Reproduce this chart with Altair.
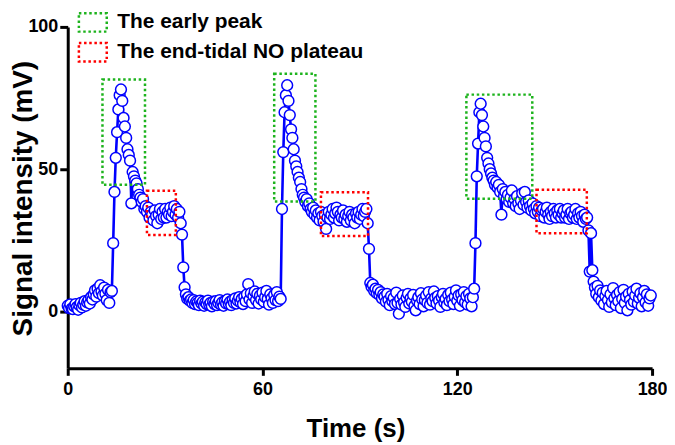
import altair as alt
import pandas as pd

FONT = "Liberation Sans"
SAMPLE_INTERVAL_S = 0.4

# Signal (mV), one value every 0.4 s
baseline_1 = [2.0, 1.2, 2.5, 1.0, 0.8, 1.8, 2.6, 1.5, 0.6, 2.2,
              3.0, 1.4, 2.4, 3.6, 2.0, 3.2, 4.0, 2.8, 5.0, 4.2,
              6.0, 7.4, 5.2, 8.0, 6.4, 9.2, 7.0, 5.6, 8.4, 6.2,
              4.0, 7.6, 3.0, 6.8, 7.2]
cycle_1 = [24, 42, 54, 63, 71, 76, 78, 74, 68, 65,
           61, 57, 55, 53, 38, 49, 47.5, 46, 45, 43,
           41, 40, 38.5, 39.5, 36, 37, 35, 36.5, 33, 35,
           34, 32, 35.5, 33.5, 31, 34, 36, 32.5, 35, 33,
           36, 33, 35, 34, 36.5, 33.5, 35, 37, 34, 36,
           33, 35, 31, 27, 15.5, 8.5]
baseline_2 = [6.0, 4.5, 5.0, 3.8, 4.2, 3.0, 4.0, 2.6, 3.5, 3.0,
              2.2, 3.8, 2.8, 3.4, 2.0, 3.2, 2.6, 3.8, 2.4, 3.0,
              1.8, 3.4, 2.6, 3.6, 2.2, 3.0, 4.0, 2.4, 3.2, 2.0,
              3.6, 2.8, 4.2, 2.6, 3.4, 2.2, 4.0, 3.0, 4.6, 2.8,
              3.8, 5.0, 3.2, 4.4, 2.6, 5.2, 3.6, 6.0, 9.6, 4.2,
              6.4, 3.0, 5.4, 7.0, 4.0, 6.2, 2.8, 5.6, 4.2, 6.6,
              3.4, 5.0, 7.2, 4.4, 2.4, 6.0, 4.6, 3.0, 5.8, 4.0,
              6.8, 3.6, 5.2, 4.4]
cycle_2 = [36, 56, 70, 76, 79.5, 74, 69, 64, 61, 57,
           53, 51, 49, 47, 45.5, 43, 41, 40, 38.5, 39.5,
           37, 38, 36, 35, 36.5, 34, 35.5, 33, 34.5, 32,
           35, 33.5, 31.5, 34, 29, 33, 35, 32.5, 34, 36,
           33, 34.5, 36.5, 35, 32, 34, 33, 35.5, 32.5, 34,
           31.5, 33.5, 35, 32, 34, 33, 31, 34.5, 33, 35,
           32.5, 34, 36, 33.5, 35, 36, 31, 22, 10]
baseline_3 = [8.6, 9.4, 7.2, 8.0, 6.4, 7.6, 5.8, 6.8, 4.6, 6.0,
              5.2, 3.4, 6.2, 4.0, 2.2, 5.4, 3.6, 4.8, 2.6, 6.6,
              3.0, -0.8, 4.4, 2.4, 5.6, 3.2, 1.6, 4.8, 6.2, 2.8,
              4.6, 3.4, 5.8, 2.0, 0.4, 3.8, 5.0, 2.6, 6.4, 4.2,
              1.8, 4.0, 5.6, 3.0, 6.8, 2.4, 4.6, 3.6, 7.0, 4.8,
              2.8, 5.4, 3.8, 1.6, 5.0, 6.2, 3.2, 4.4, 2.2, 5.8,
              3.6, 6.6, 4.2, 2.6, 5.2, 7.4, 3.8, 5.6, 2.0, 6.0,
              4.0, 6.8, 3.2, 5.4, 2.4, 6.2, 4.6, 1.8, 5.0, 8.0]
cycle_3 = [24, 47.5, 59, 70, 73, 69, 65, 61, 58, 54,
           52, 50, 48.5, 47, 46, 44.5, 45.5, 43.5, 44.5, 42,
           34, 43, 40.5, 42, 39.5, 41, 38.5, 40, 42.5, 38,
           39.5, 37, 40.5, 38, 36, 39, 41.5, 37.5, 42, 38.5,
           36.5, 39, 37, 35.5, 38, 36, 34.5, 37, 35, 36.5,
           33.5, 35.5, 36, 33, 35, 36.5, 34, 32.5, 35,
           33.5, 36, 34.5, 33, 35.5, 34, 36, 33, 34.5, 35.5,
           33, 34, 36, 32.5, 34.5, 35, 33, 34, 36, 32.5,
           34.5, 33, 35, 33.5, 31.5, 34, 32.5, 33, 28.5, 14,
           27.5, 14.5]
baseline_4 = [10.5, 8.4, 6.2, 9.0, 5.0, 7.4, 3.8, 6.6, 2.6, 5.4,
              7.2, 4.0, 1.6, 6.0, 3.2, 8.2, 4.6, 2.2, 5.8, 3.6,
              6.8, 1.2, 4.4, 7.6, 3.0, 5.2, 0.4, 6.2, 4.0, 2.4,
              7.0, 3.4, 5.6, 8.0, 2.8, 4.8, 6.4, 1.8, 5.0, 7.2,
              3.2, 6.0, 2.0, 4.6, 5.6]

signal_mv = baseline_1 + cycle_1 + baseline_2 + cycle_2 + baseline_3 + cycle_3 + baseline_4
time_s = [round(i * SAMPLE_INTERVAL_S, 1) for i in range(len(signal_mv))]

# Annotation boxes (data units)
legend_labels = ["The early peak", "The end-tidal NO plateau"]
box_kind = [legend_labels[0]] * 3 + [legend_labels[1]] * 3
box_t_start = [10.7, 63.6, 122.8, 24.4, 78.0, 144.4]
box_t_end = [23.8, 76.3, 143.1, 33.3, 92.5, 159.9]
box_v_low = [44.5, 38.6, 39.6, 26.9, 26.5, 27.5]
box_v_high = [81.5, 83.5, 76.2, 42.4, 41.9, 42.8]

x_ticks = [0, 60, 120, 180]
y_ticks = [0, 50, 100]

df = pd.DataFrame({"t": time_s, "v": signal_mv})
boxes = pd.DataFrame({"kind": box_kind, "t0": box_t_start, "t1": box_t_end,
                      "v0": box_v_low, "v1": box_v_high})

x_scale = alt.Scale(domain=[0, 180], nice=False, zero=False)
y_scale = alt.Scale(domain=[-20, 100], nice=False, zero=False)

x_axis = alt.Axis(values=x_ticks, title="Time (s)", grid=False,
                  domainWidth=3, domainColor="black", tickWidth=3, tickColor="black",
                  tickSize=7, labelFont=FONT, labelFontSize=18, labelFontWeight="bold",
                  labelColor="black", labelPadding=5, labelFlush=False, labelOverlap=False,
                  titleFont=FONT, titleFontSize=26, titleFontWeight="bold", titleColor="black",
                  titleX=289, titleY=68, titleAlign="center", titleBaseline="alphabetic")
y_axis = alt.Axis(values=y_ticks, title="Signal intensity (mV)", grid=False,
                  domainWidth=3, domainColor="black", tickWidth=3, tickColor="black",
                  tickSize=8, labelFont=FONT, labelFontSize=18, labelFontWeight="bold",
                  labelColor="black", labelPadding=2, labelFlush=False, labelOverlap=False,
                  titleFont=FONT, titleFontSize=28, titleFontWeight="bold", titleColor="black",
                  titleAngle=270, titleX=-36, titleY=172, titleAlign="center",
                  titleBaseline="alphabetic")

line = alt.Chart(df).mark_line(color="#0000ff", strokeWidth=2.6).encode(
    x=alt.X("t:Q", scale=x_scale, axis=x_axis),
    y=alt.Y("v:Q", scale=y_scale, axis=y_axis),
)
points = alt.Chart(df).mark_circle(fill="white", stroke="#0000ff", strokeWidth=1.5,
                                   size=118, opacity=1).encode(
    x=alt.X("t:Q", scale=x_scale),
    y=alt.Y("v:Q", scale=y_scale),
)
rects = alt.Chart(boxes).mark_rect(filled=False, strokeWidth=2.5, strokeDash=[2.5, 2.7]).encode(
    x=alt.X("t0:Q", scale=x_scale),
    x2="t1:Q",
    y=alt.Y("v0:Q", scale=y_scale),
    y2="v1:Q",
    stroke=alt.Stroke("kind:N",
                      scale=alt.Scale(domain=legend_labels, range=["#1db31d", "#ff0000"]),
                      legend=alt.Legend(title=None, orient="none", legendX=9.7, legendY=-20,
                                        direction="vertical",
                                        symbolType="M-1,-0.66L1,-0.66L1,0.66L-1,0.66Z",
                                        symbolSize=784, symbolStrokeWidth=2.5,
                                        symbolDash=[2.5, 2.7], symbolFillColor="transparent",
                                        labelFont=FONT, labelFontSize=21, labelFontWeight="bold",
                                        labelColor="black", labelOffset=9, labelLimit=0,
                                        rowPadding=-1.5, padding=0)),
)

chart = alt.layer(line, points, rects).properties(
    width=587, height=343,
    autosize=alt.AutoSizeParams(type="none"),
    padding={"left": 60, "top": 18, "right": 15, "bottom": 75},
).configure_view(strokeWidth=0)

chart.save("out.html", embed_options={"renderer": "svg", "actions": False})
